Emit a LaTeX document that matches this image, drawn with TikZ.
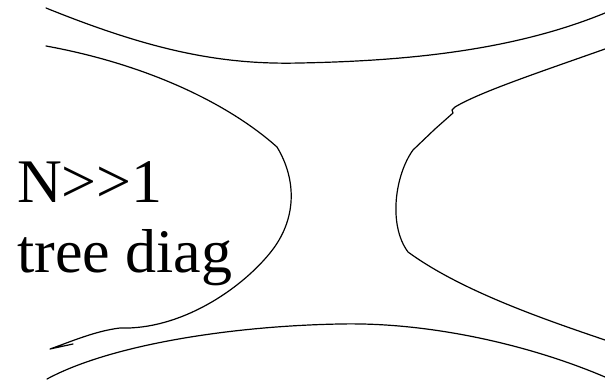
\documentclass[tikz,border=0pt]{standalone}
\usepackage{fontspec}
\setmainfont{Liberation Serif}
\usepackage{tikz}
\usetikzlibrary{positioning}

\begin{document}
\begin{tikzpicture}[
    x=1pt, y=-1pt,
    line/.style={line width=1.2pt, line join=round, line cap=round},
    big/.style={inner sep=0pt, anchor=base west, font=\fontsize{62}{69}\selectfont}
]
\useasboundingbox (0,0) rectangle (605,382);

% Top curve
\draw[line] (46,8) .. controls (150,50) and (220,65) .. (300,63)
    .. controls (400,61) and (510,52) .. (605,13);

% Left curve
\draw[line] (46,46) .. controls (150,65) and (230,105) .. (277,147)
    .. controls (297,180) and (297,220) .. (270,253)
    .. controls (240,290) and (180,330) .. (120,328)
    .. controls (95,331) and (70,342) .. (50,349) -- (73,344);

% Right curve
\draw[line] (605,49) .. controls (540,72) and (480,92) .. (455,107)
    -- (452,110) -- (453,113) -- (435,129) -- (413,150)
    .. controls (395,175) and (388,225) .. (408,252)
    .. controls (460,290) and (540,318) .. (605,340);

% Bottom curve
\draw[line] (47,379) .. controls (110,345) and (230,326) .. (340,324)
    .. controls (430,322) and (530,345) .. (605,377);

% Labels
\node[big] (n) at (17,203) {N{>}{>}1};
\node[big] (tree) at (17,272) {tree diag};
\end{tikzpicture}
\end{document}
